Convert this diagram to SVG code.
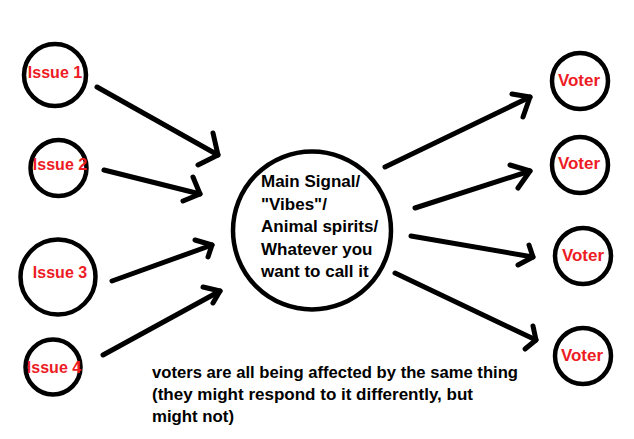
<svg xmlns="http://www.w3.org/2000/svg" width="634" height="439" viewBox="0 0 634 439">
<style>
.n{fill:#fff;stroke:#000;stroke-width:4.5}
.lbl{font-family:"Liberation Sans",Arial,sans-serif;font-weight:bold;fill:#ed1c24;text-anchor:middle}
.blk{font-family:"Liberation Sans",Arial,sans-serif;font-weight:bold;fill:#000}
.c line, .c polyline{stroke:#000;stroke-width:5;stroke-linecap:round;stroke-linejoin:round;fill:none}
</style>
<rect width="634" height="439" fill="#fff"/>
<g class="c" id="connectors">
<line x1="97" y1="87" x2="218" y2="155"/><polyline points="213,133 218,155 198,165"/>
<line x1="104" y1="170" x2="200" y2="194"/><polyline points="193,177 200,194 183,201"/>
<line x1="112" y1="281" x2="212" y2="245"/><polyline points="195,240 212,245 208,257"/>
<line x1="103" y1="355" x2="220" y2="291"/><polyline points="203,287 220,291 213,303"/>
<line x1="385" y1="167" x2="530" y2="97"/><polyline points="512,94 530,97 523,117"/>
<line x1="415" y1="208" x2="530" y2="171"/><polyline points="510,165 530,171 518,188"/>
<line x1="411" y1="236" x2="533" y2="257"/><polyline points="529,245 533,257 518,265"/>
<line x1="395" y1="273" x2="536" y2="340"/><polyline points="533,326 536,340 525,349"/>
</g>
<g id="issue1"><circle class="n" cx="55" cy="75" r="31"/><text class="lbl" x="55" y="78" font-size="16">Issue 1</text></g>
<g id="issue2"><circle class="n" cx="58.5" cy="168" r="28"/><text class="lbl" x="60" y="170" font-size="16">Issue 2</text></g>
<g id="issue3"><circle class="n" cx="58" cy="277" r="37.5"/><text class="lbl" x="60" y="278" font-size="16">Issue 3</text></g>
<g id="issue4"><circle class="n" cx="53" cy="367" r="27.5"/><text class="lbl" x="54" y="373" font-size="16">Issue 4</text></g>
<g id="main"><circle class="n" cx="312" cy="230.5" r="79"/>
<text class="blk" font-size="17"><tspan x="261" y="187">Main Signal/</tspan><tspan x="261" y="209.5">"Vibes"/</tspan><tspan x="261" y="232">Animal spirits/</tspan><tspan x="261" y="254.5">Whatever you</tspan><tspan x="261" y="277">want to call it</tspan></text></g>
<g id="voter1"><circle class="n" cx="580" cy="81" r="28"/><text class="lbl" x="579" y="86" font-size="17">Voter</text></g>
<g id="voter2"><circle class="n" cx="580" cy="165" r="28"/><text class="lbl" x="579" y="169" font-size="17">Voter</text></g>
<g id="voter3"><circle class="n" cx="583" cy="256" r="28"/><text class="lbl" x="583" y="261" font-size="17">Voter</text></g>
<g id="voter4"><circle class="n" cx="583" cy="356" r="28"/><text class="lbl" x="582" y="361" font-size="17">Voter</text></g>
<g id="note"><text class="blk" font-size="16"><tspan x="152" y="378" textLength="366" lengthAdjust="spacingAndGlyphs">voters are all being affected by the same thing</tspan><tspan x="152" y="400" textLength="321" lengthAdjust="spacingAndGlyphs">(they might respond to it differently, but</tspan><tspan x="152" y="421.5" textLength="82" lengthAdjust="spacingAndGlyphs">might not)</tspan></text></g>
</svg>
